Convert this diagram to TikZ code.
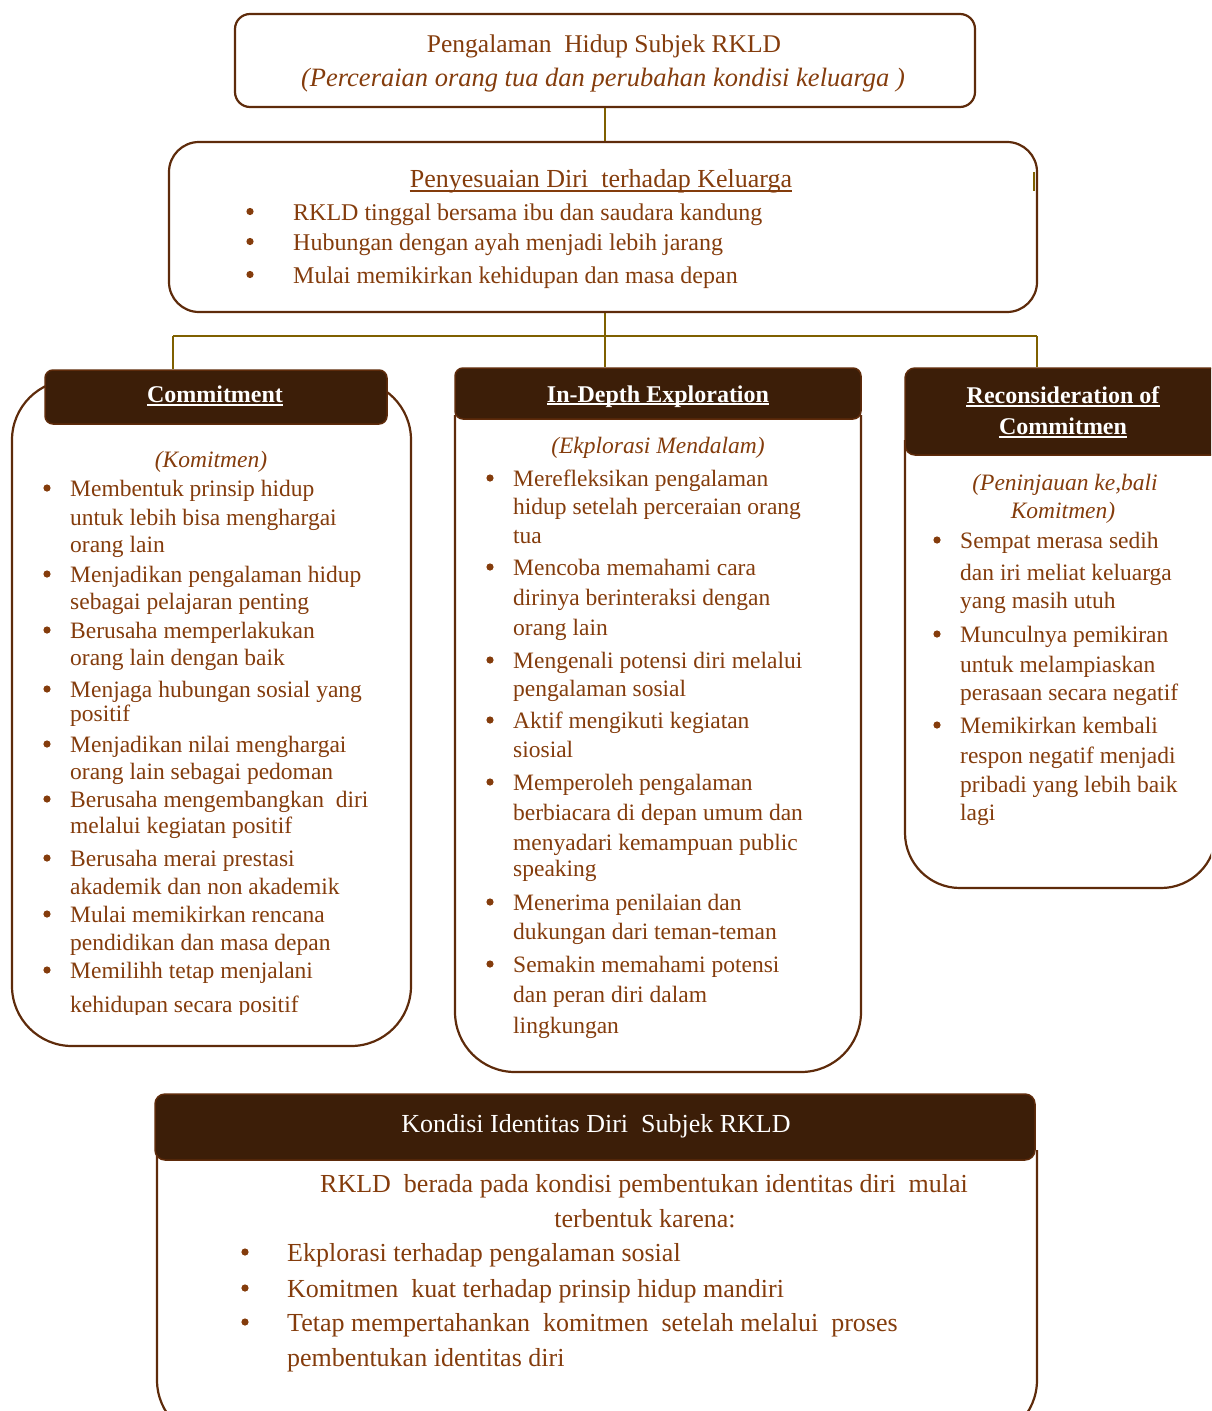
\documentclass[tikz,border=0pt]{standalone}
\usepackage{fontspec}
\setmainfont{Liberation Serif}
\definecolor{tx}{HTML}{843C0C}
\definecolor{hd}{HTML}{3C1E08}
\definecolor{ol}{HTML}{5E2B0B}
\definecolor{cn}{HTML}{7F6000}
\begin{document}
\begin{tikzpicture}[x=1pt,y=-1pt,
  box/.style={draw=ol, line width=2.2pt},
  hdr/.style={draw=ol, line width=1.5pt, fill=hd, inner sep=0pt},
  conn/.style={draw=cn, line width=1.8pt},
  colt/.style={inner sep=0pt, text=tx, font=\fontsize{23.5}{28}\selectfont},
  colti/.style={colt, font=\itshape\fontsize{23.5}{28}\selectfont},
  hdt/.style={inner sep=0pt, text=white, font=\bfseries\fontsize{24}{28}\selectfont},
  bigt/.style={inner sep=0pt, text=tx, font=\fontsize{25.5}{30}\selectfont},
  midt/.style={inner sep=0pt, text=tx, font=\fontsize{24}{30}\selectfont},
  lowt/.style={inner sep=0pt, text=tx, font=\fontsize{26}{30}\selectfont},
  ul/.style={white, line width=1.4pt},
  ult/.style={tx, line width=1.4pt},
  bul/.style={fill=tx}
]
\useasboundingbox (0,0) rectangle (1211,1411);
\clip (0,0) rectangle (1211,1411);

% ---------- top box ----------
\node[box, rounded corners=15pt, minimum width=740pt, minimum height=93pt, inner sep=0pt] (top) at (605,60.5) {};
\node[bigt, anchor=base] (top1) at (604,52) {Pengalaman\ \ Hidup Subjek RKLD};
\node[bigt, font=\itshape\fontsize{26.5}{30}\selectfont, anchor=base] (top2) at (603,86) {(Perceraian orang tua dan perubahan kondisi keluarga\ )};

% ---------- second box ----------
\node[box, rounded corners=30pt, minimum width=868pt, minimum height=170pt, inner sep=0pt] (adj) at (603,227) {};
\draw[conn] (top.south) -- (top.south |- adj.north);
\draw[conn, line width=2.5pt] (1034,172) -- (1034,191);
\node[lowt, anchor=base] (adjt) at (601,187) {Penyesuaian Diri\ \ terhadap Keluarga};
\draw[ult] ([yshift=-4pt]adjt.base west) -- ([yshift=-4pt]adjt.base east);
\foreach \b/\s [count=\i] in {220/{RKLD tinggal bersama ibu dan saudara kandung},
  250/{Hubungan dengan ayah menjadi lebih jarang},
  283/{Mulai memikirkan kehidupan dan masa depan}}{
  \node[midt, anchor=base west] (adj\i) at (293,\b) {\s};
  \fill[bul] (250,\b-8.5) circle[radius=3.6];
}

% ---------- bus connectors ----------
\coordinate (bus0) at (605,336);
\coordinate (bus1) at (173,336);
\coordinate (bus3) at (1037,336);

% ---------- Commitment column ----------
\node[box, rounded corners=60pt, minimum width=399pt, minimum height=666pt, inner sep=0pt] (comB) at (211.5,713) {};
\node[hdr, rounded corners=8pt, minimum width=342pt, minimum height=54pt] (comH) at (216,397) {};
\node[hdt, anchor=base] (comT) at (215,402) {Commitment};
\draw[ul] ([yshift=-3pt]comT.base west) -- ([yshift=-3pt]comT.base east);
\node[colti, anchor=base] (comS) at (211,467) {(Komitmen)};
\begin{scope}
\clip (0,0) rectangle (411,1014);
\foreach \b/\k/\s [count=\i] in {
  496/1/{Membentuk prinsip hidup},
  525/0/{untuk lebih bisa menghargai},
  552/0/{orang lain},
  582/1/{Menjadikan pengalaman\ hidup},
  609/0/{sebagai\ pelajaran\ penting},
  638/1/{Berusaha memperlakukan},
  665/0/{orang lain dengan\ baik},
  697/1/{Menjaga hubungan sosial yang},
  721/0/{positif},
  752/1/{Menjadikan nilai\ menghargai},
  779/0/{orang lain sebagai\ pedoman},
  807/1/{Berusaha mengembangkan\ \ diri},
  833/0/{melalui\ kegiatan\ positif},
  866/1/{Berusaha merai prestasi},
  894/0/{akademik\ dan non akademik},
  922/1/{Mulai memikirkan\ rencana},
  950/0/{pendidikan dan masa depan},
  978/1/{Memilihh tetap menjalani},
  1012/0/{kehidupan secara positif}}{
  \node[colt, anchor=base west] (com\i) at (70,\b) {\s};
  \ifnum\k=1 \fill[bul] (47,\b-8) circle[radius=3.6];\fi
}
\end{scope}

% ---------- In-Depth column ----------
\draw[box, rounded corners=60pt] (455,415) -- (455,1072) -- (861,1072) -- (861,415);
\node[hdr, rounded corners=8pt, minimum width=406pt, minimum height=51pt] (expH) at (658,393.5) {};
\node[hdt, anchor=base] (expT) at (658,402) {In-Depth Exploration};
\draw[ul] ([yshift=-2pt]expT.base west) -- ([yshift=-2pt]expT.base east);
\node[colti, anchor=base] (expS) at (658,453) {(Ekplorasi Mendalam)};
\foreach \b/\k/\s [count=\i] in {
  486/1/{Merefleksikan pengalaman},
  514/0/{hidup setelah\ perceraian\ orang},
  543/0/{tua},
  575/1/{Mencoba memahami\ cara},
  605/0/{dirinya berinteraksi dengan},
  635/0/{orang lain},
  668/1/{Mengenali potensi diri melalui},
  696/0/{pengalaman\ sosial},
  728/1/{Aktif mengikuti\ kegiatan},
  757/0/{siosial},
  790/1/{Memperoleh pengalaman},
  820/0/{berbiacara\ di depan umum dan},
  850/0/{menyadari kemampuan public},
  876/0/{speaking},
  910/1/{Menerima penilaian dan},
  939/0/{dukungan dari teman-teman},
  972/1/{Semakin\ memahami\ potensi},
  1002/0/{dan peran diri dalam},
  1033/0/{lingkungan}}{
  \node[colt, anchor=base west] (exp\i) at (513,\b) {\s};
  \ifnum\k=1 \fill[bul] (490,\b-8) circle[radius=3.6];\fi
}

% ---------- Reconsideration column ----------
\draw[box, rounded corners=55pt] (905,440) -- (905,888) -- (1216,888) -- (1216,440);
\node[hdr, rounded corners=10pt, minimum width=325pt, minimum height=87pt] (recH) at (1067.5,411.5) {};
\node[hdt, anchor=base] (recT1) at (1063,403) {Reconsideration of};
\node[hdt, anchor=base] (recT2) at (1063,434) {Commitmen};
\draw[ul] ([yshift=-3pt]recT1.base west) -- ([yshift=-3pt]recT1.base east);
\draw[ul] ([yshift=-3pt]recT2.base west) -- ([yshift=-3pt]recT2.base east);
\node[colti, anchor=base] (recS1) at (1065,490) {(Peninjauan ke,bali};
\node[colti, anchor=base] (recS2) at (1063,518) {Komitmen)};
\foreach \b/\k/\s [count=\i] in {
  548/1/{Sempat merasa sedih},
  580/0/{dan iri meliat\ keluarga},
  608/0/{yang masih utuh},
  642/1/{Munculnya pemikiran},
  672/0/{untuk melampiaskan},
  700/0/{perasaan secara negatif},
  733/1/{Memikirkan kembali},
  763/0/{respon negatif\ menjadi},
  792/0/{pribadi yang lebih\ baik},
  820/0/{lagi}}{
  \node[colt, anchor=base west] (rec\i) at (960,\b) {\s};
  \ifnum\k=1 \fill[bul] (937,\b-8) circle[radius=3.6];\fi
}

% connectors to the three columns
\draw[conn] (adj.south -| top.south) -- (bus0);
\draw[conn] (bus1) -- (bus3);
\draw[conn] (bus1) -- (bus1 |- comH.north);
\draw[conn] (bus0) -- (bus0 |- expH.north);
\draw[conn] (bus3) -- (bus3 |- recH.north);

% ---------- bottom box ----------
\draw[box, rounded corners=60pt] (157,1150) -- (157,1440) -- (1037,1440) -- (1037,1150);
\node[hdr, rounded corners=10pt, minimum width=880pt, minimum height=66pt] (kondH) at (595,1127) {};
\node[lowt, text=white, anchor=base] (kondT) at (596,1132) {Kondisi Identitas Diri\ \ Subjek RKLD};
\node[lowt, anchor=base west] (kond1) at (320,1192) {RKLD\ \ berada pada kondisi pembentukan identitas diri\ \ mulai};
\node[lowt, anchor=base] (kond2) at (645,1227) {terbentuk karena:};
\foreach \b/\k/\s [count=\i] in {
  1261/1/{Ekplorasi\ terhadap pengalaman sosial},
  1297/1/{Komitmen\ \ kuat\ terhadap prinsip hidup mandiri},
  1331/1/{Tetap mempertahankan\ \ komitmen\ \ setelah melalui\ \ proses},
  1366/0/{pembentukan identitas diri}}{
  \node[lowt, anchor=base west] (kb\i) at (287,\b) {\s};
  \ifnum\k=1 \fill[bul] (245,\b-9) circle[radius=3.6];\fi
}
\end{tikzpicture}
\end{document}
